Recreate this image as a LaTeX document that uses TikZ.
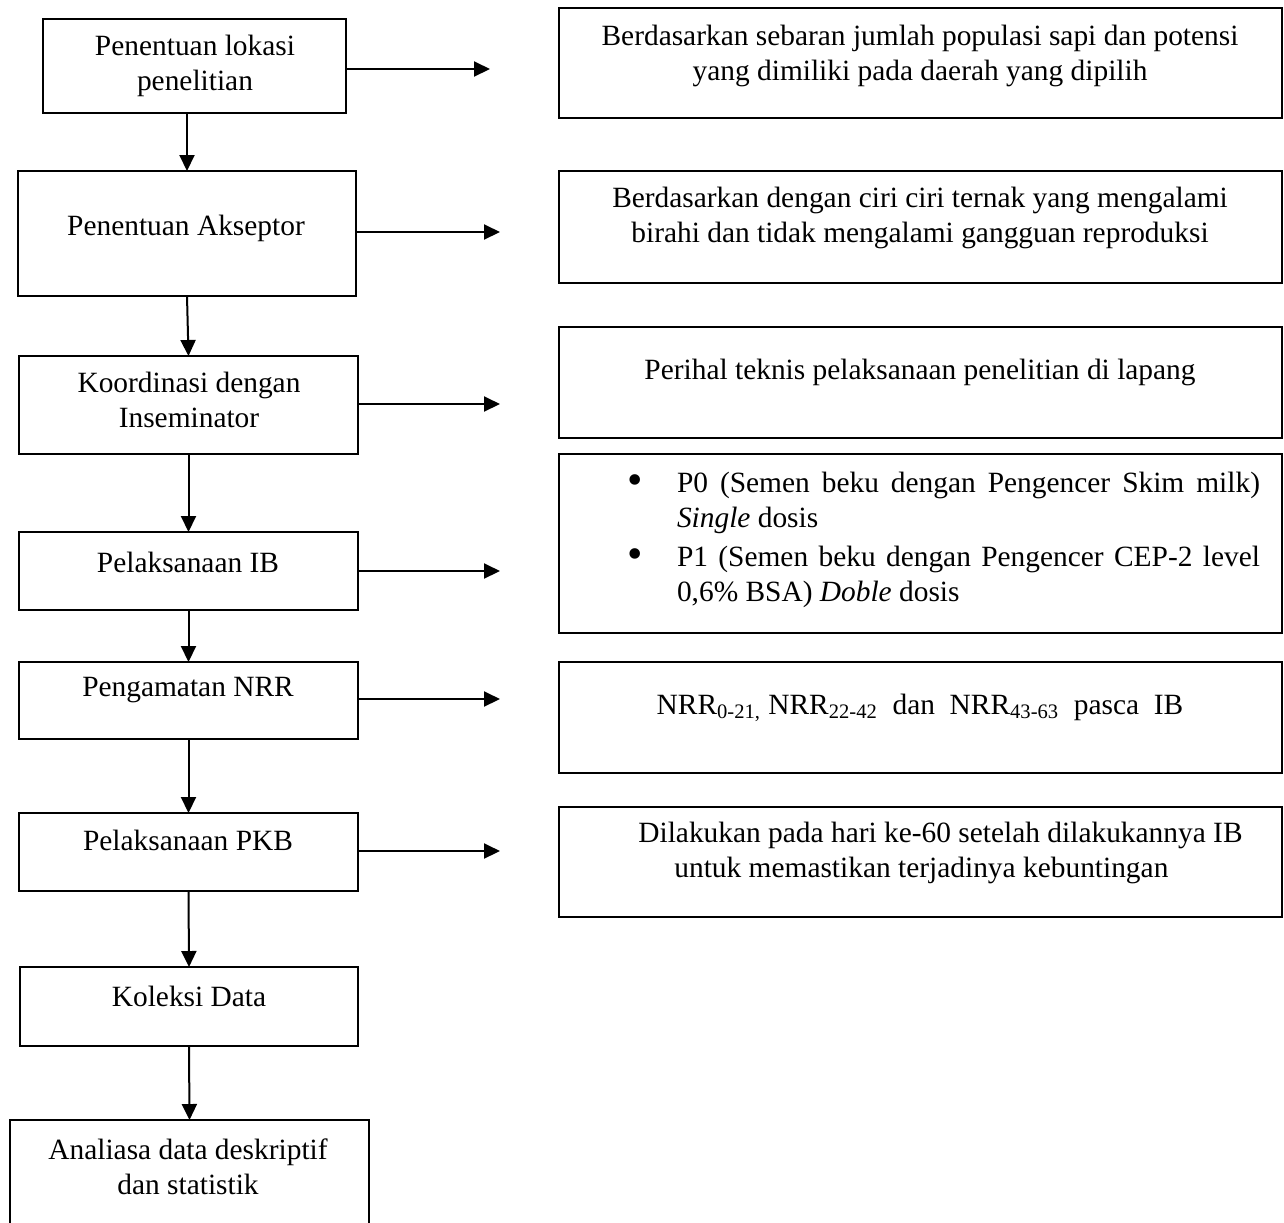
\documentclass[tikz,border=0pt]{standalone}
\usepackage{fontspec}
\setmainfont{Liberation Serif}
\usetikzlibrary{arrows.meta}
\begin{document}
\begin{tikzpicture}[x=0.5pt,y=-0.5pt,
  box/.style={draw, line width=1.3pt, inner sep=0pt, outer sep=0pt},
  txt/.style={inner sep=0pt, align=center, font=\fontsize{14.7pt}{17.5pt}\selectfont},
  bul/.style={inner sep=0pt, font=\fontsize{22pt}{22pt}\selectfont},
  arr/.style={line width=1pt, -{Triangle[length=8pt,width=7.5pt]}}
]
\clip (0,0) rectangle (1284,1222);
\fill[white] (0,0) rectangle (1284,1222);
% left column boxes
\node[box, minimum width=151.5pt, minimum height=47pt]   (b1) at (194.5,66) {};
\node[box, minimum width=169pt,   minimum height=62.5pt] (b2) at (187,233.5) {};
\node[box, minimum width=169.5pt, minimum height=49pt]   (b3) at (188.5,405) {};
\node[box, minimum width=169.5pt, minimum height=39pt]   (b4) at (188.5,571) {};
\node[box, minimum width=169.5pt, minimum height=38.5pt] (b5) at (188.5,700.5) {};
\node[box, minimum width=169.5pt, minimum height=39pt]   (b6) at (188.5,852) {};
\node[box, minimum width=169pt,   minimum height=39.5pt] (b7) at (189,1006.5) {};
\node[box, minimum width=179.5pt, minimum height=60pt]   (b8) at (189.5,1180) {};
% right column boxes
\node[box, minimum width=361.5pt, minimum height=55pt]   (r1) at (920.5,63) {};
\node[box, minimum width=361.5pt, minimum height=56pt]   (r2) at (920.5,227) {};
\node[box, minimum width=361.5pt, minimum height=55.5pt] (r3) at (920.5,382.5) {};
\node[box, minimum width=361.5pt, minimum height=89.5pt] (r4) at (920.5,543.5) {};
\node[box, minimum width=361.5pt, minimum height=55.5pt] (r5) at (920.5,717.5) {};
\node[box, minimum width=361.5pt, minimum height=55pt]   (r6) at (920.5,862) {};
% left texts
\node[txt] (t1) at (195,65.5) {Penentuan lokasi\\penelitian};
\node[txt] (t2) at (186,228) {Penentuan Akseptor};
\node[txt] (t3) at (189,400) {Koordinasi dengan\\Inseminator};
\node[txt] (t4) at (188,562) {Pelaksanaan IB};
\node[txt] (t5) at (188,690) {Pengamatan NRR};
\node[txt] (t6) at (188,840) {Pelaksanaan PKB};
\node[txt] (t7) at (189,996) {Koleksi Data};
\node[txt] (t8) at (188,1167) {Analiasa data deskriptif\\dan statistik};
% right texts
\node[txt] (s1) at (920,56) {Berdasarkan sebaran jumlah populasi sapi dan potensi\\yang dimiliki pada daerah yang dipilih};
\node[txt] (s2) at (920,218) {Berdasarkan dengan ciri ciri ternak yang mengalami\\birahi dan tidak mengalami gangguan reproduksi};
\node[txt] (s3) at (920,372) {Perihal teknis pelaksanaan penelitian di lapang};
\node[bul] (d1) at (635,485) {\textbullet};
\node[bul] (d2) at (635,559) {\textbullet};
\node[txt, text width=291.5pt, align=justify] (p0) at (968.5,502.5) {P0 (Semen beku dengan Pengencer Skim milk)\linebreak \textit{Single} dosis};
\node[txt, text width=291.5pt, align=justify] (p1) at (968.5,577) {P1 (Semen beku dengan Pengencer CEP-2 level\linebreak 0,6\% BSA) \textit{Doble} dosis};
\node[txt] (s5) at (920,708) {NRR\textsubscript{0-21,} NRR\textsubscript{22-42}\ \ dan\ \ NRR\textsubscript{43-63}\ \ pasca\ \ IB};
\node[txt, align=left, anchor=west] (s6) at (638,852.5) {Dilakukan pada hari ke-60 setelah dilakukannya IB\\\hspace*{18pt}untuk memastikan terjadinya kebuntingan};
% arrow end points
\coordinate (e1) at (490,69);
\coordinate (e2) at (500,232);
\coordinate (e3) at (500,404);
\coordinate (e4) at (500,571);
\coordinate (e5) at (500,699);
\coordinate (e6) at (500,851);
% horizontal arrows
\draw[arr] (b1.east |- e1) -- (e1);
\draw[arr] (b2.east |- e2) -- (e2);
\draw[arr] (b3.east |- e3) -- (e3);
\draw[arr] (b4.east |- e4) -- (e4);
\draw[arr] (b5.east |- e5) -- (e5);
\draw[arr] (b6.east |- e6) -- (e6);
% vertical arrows
\draw[arr] (b1.south -| b2.north) -- (b2.north);
\draw[arr] (b2.south) -- (b3.north);
\draw[arr] (b3.south) -- (b4.north);
\draw[arr] (b4.south) -- (b5.north);
\draw[arr] (b5.south) -- (b6.north);
\draw[arr] (b6.south) -- (b7.north);
\draw[arr] (b7.south) -- (b8.north);
\end{tikzpicture}
\end{document}
